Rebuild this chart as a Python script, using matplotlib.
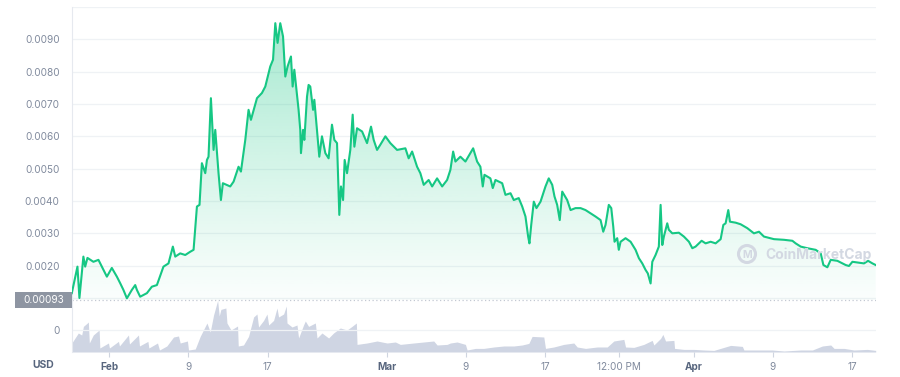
import numpy as np
import matplotlib
matplotlib.use("Agg")
import matplotlib.pyplot as plt
from matplotlib.patches import Circle, Rectangle

plt.rcParams['font.family'] = ['Inter', 'DejaVu Sans']

# ---- data (days relative to Feb 1) ----
price_days = [-3.77, -3.20, -3.00, -2.60, -2.42, -2.19, -1.59, -1.08, -0.74, -0.23, 0.27, 0.78, 1.11, 1.44,
              1.79, 2.29, 2.63, 2.80, 3.13, 3.81, 4.31, 4.82, 5.48, 5.99, 6.43, 6.67, 7.17, 7.68, 8.18, 8.52,
              8.86, 9.12, 9.36, 9.70, 9.87, 10.03, 10.27, 10.54, 10.71, 11.04, 11.28, 11.48, 12.22, 12.56,
              13.06, 13.30, 13.74, 14.07, 14.31, 14.92, 15.42, 15.76, 16.26, 16.54, 16.77, 17.00, 17.27,
              17.55, 17.78, 18.01, 18.35, 18.52, 18.69, 19.12, 19.29, 19.36, 19.57, 19.70, 19.97, 20.13,
              20.30, 20.58, 20.71, 20.98, 21.21, 21.48, 21.82, 22.15, 22.49, 22.73, 23.00, 23.23, 23.40,
              23.61, 23.77, 24.01, 24.34, 24.58, 24.75, 25.02, 25.53, 26.03, 26.43, 26.70, 27.04, 27.37,
              27.88, 28.38, 29.06, 29.90, 30.23, 30.58, 31.08, 31.41, 31.75, 32.25, 32.60, 33.10, 33.61,
              34.11, 34.44, 34.72, 34.95, 35.45, 35.96, 36.74, 37.14, 37.47, 37.71, 37.88, 38.48, 38.72,
              38.99, 39.67, 40.00, 40.51, 40.84, 41.34, 41.69, 42.02, 42.29, 42.42, 42.60, 42.86, 43.13,
              43.54, 44.04, 44.37, 44.72, 44.95, 45.22, 45.48, 45.73, 46.23, 46.57, 47.07, 47.58, 48.08,
              48.59, 49.09, 49.60, 49.87, 50.10, 50.43, 50.68, 50.88, 51.01, 51.28, 51.44, 51.62, 52.12,
              52.63, 53.13, 53.47, 53.81, 54.14, 54.37, 54.65, 54.82, 55.15, 55.48, 55.66, 55.83, 55.99,
              56.33, 56.49, 56.84, 57.50, 58.01, 58.52, 58.86, 59.19, 59.80, 60.20, 60.71, 61.21, 61.72,
              61.99, 62.22, 62.49, 62.66, 63.23, 63.74, 64.41, 65.08, 65.59, 66.09, 67.10, 68.11, 68.96,
              69.29, 69.80, 70.47, 71.31, 71.82, 72.09, 72.49, 72.83, 73.50, 74.34, 74.67, 75.02, 75.69,
              76.19, 76.60, 77.04, 77.37]
price_usd = [0.00115, 0.00197, 0.00100, 0.00228, 0.00197, 0.00224, 0.00212, 0.00218, 0.00197, 0.00166,
             0.00193, 0.00166, 0.00146, 0.00125, 0.00099, 0.00125, 0.00140, 0.00125, 0.00104, 0.00115,
             0.00135, 0.00140, 0.00197, 0.00207, 0.00259, 0.00228, 0.00238, 0.00233, 0.00243, 0.00249,
             0.00383, 0.00388, 0.00517, 0.00486, 0.00527, 0.00537, 0.00718, 0.00558, 0.00620, 0.00486,
             0.00403, 0.00455, 0.00445, 0.00460, 0.00506, 0.00491, 0.00589, 0.00682, 0.00651, 0.00718,
             0.00734, 0.00754, 0.00816, 0.00837, 0.00950, 0.00889, 0.00950, 0.00909, 0.00785, 0.00816,
             0.00847, 0.00754, 0.00806, 0.00682, 0.00620, 0.00548, 0.00620, 0.00589, 0.00723, 0.00759,
             0.00754, 0.00682, 0.00713, 0.00620, 0.00537, 0.00600, 0.00548, 0.00532, 0.00636, 0.00589,
             0.00579, 0.00357, 0.00445, 0.00403, 0.00527, 0.00486, 0.00558, 0.00667, 0.00568, 0.00625,
             0.00615, 0.00579, 0.00630, 0.00589, 0.00558, 0.00574, 0.00600, 0.00579, 0.00558, 0.00563,
             0.00532, 0.00553, 0.00506, 0.00486, 0.00450, 0.00465, 0.00445, 0.00470, 0.00445, 0.00465,
             0.00496, 0.00553, 0.00522, 0.00537, 0.00522, 0.00563, 0.00522, 0.00506, 0.00445, 0.00481,
             0.00470, 0.00440, 0.00465, 0.00455, 0.00419, 0.00424, 0.00403, 0.00409, 0.00383, 0.00352,
             0.00290, 0.00269, 0.00326, 0.00398, 0.00378, 0.00398, 0.00445, 0.00470, 0.00450, 0.00414,
             0.00388, 0.00341, 0.00429, 0.00403, 0.00372, 0.00378, 0.00378, 0.00372, 0.00362, 0.00352,
             0.00341, 0.00305, 0.00326, 0.00388, 0.00378, 0.00321, 0.00274, 0.00285, 0.00249, 0.00274,
             0.00285, 0.00274, 0.00249, 0.00223, 0.00207, 0.00187, 0.00176, 0.00145, 0.00212, 0.00233,
             0.00259, 0.00388, 0.00264, 0.00290, 0.00331, 0.00311, 0.00300, 0.00302, 0.00290, 0.00274,
             0.00254, 0.00259, 0.00277, 0.00269, 0.00274, 0.00269, 0.00282, 0.00326, 0.00331, 0.00372,
             0.00336, 0.00333, 0.00328, 0.00316, 0.00300, 0.00305, 0.00290, 0.00282, 0.00280, 0.00277,
             0.00269, 0.00259, 0.00254, 0.00249, 0.00238, 0.00202, 0.00195, 0.00218, 0.00215, 0.00202,
             0.00199, 0.00212, 0.00209, 0.00207, 0.00215, 0.00207, 0.00202]

vol_days = [-3.77, -3.11, -2.77, -2.60, -2.20, -2.10, -2.00, -1.60, -1.01, -0.94, -0.07, 0.03, 0.94, 1.04,
            1.95, 2.05, 2.96, 3.06, 3.91, 4.01, 4.88, 5.08, 5.82, 6.50, 7.00, 7.17, 7.90, 8.01, 8.69, 9.19,
            9.87, 10.20, 10.54, 10.95, 11.11, 11.28, 11.78, 11.89, 12.30, 12.96, 13.03, 13.56, 14.07, 14.58,
            14.92, 15.08, 15.59, 15.93, 16.10, 16.60, 16.94, 17.10, 17.61, 17.88, 17.95, 18.46, 18.96, 19.12,
            19.62, 19.80, 20.13, 20.81, 20.98, 21.48, 22.15, 22.65, 23.33, 24.01, 24.51, 24.95, 25.02,
            26.03, 27.04, 28.05, 28.89, 29.39, 30.74, 31.75, 32.76, 33.10, 34.11, 34.44, 35.12, 35.96,
            36.13, 36.97, 37.81, 38.82, 39.83, 40.84, 41.69, 42.36, 42.69, 43.87, 44.04, 44.88, 45.89,
            46.90, 47.24, 48.08, 49.26, 50.27, 50.94, 51.95, 52.12, 52.96, 53.97, 54.81, 54.98, 55.66,
            55.89, 56.16, 57.00, 57.07, 58.01, 59.02, 60.03, 61.04, 62.39, 62.73, 63.91, 64.07, 65.42,
            66.93, 68.11, 69.80, 70.98, 71.99, 72.83, 73.17, 74.17, 75.18, 76.53, 77.37]
vol_px = [9, 19, 17, 25.6, 29, 30, 9, 17, 22, 4, 9, 4, 10.6, 6, 17, 8, 17, 6, 10.6, 4, 9, 2, 6, 15, 16,
          9, 11, 2, 3, 15.6, 29, 20, 37, 51.6, 36, 42.6, 44, 29, 22, 26, 6, 7, 15.6, 35, 38, 25, 31.6, 38,
          27, 31.6, 44, 35, 38, 46, 29, 25, 27, 14, 27, 31, 25.6, 29, 14, 19, 14, 19, 24, 22, 25.6, 29,
          7.6, 9, 11, 9, 10, 7.6, 9, 10, 11, 7, 7.6, 9, 10, 7.6, 2, 3.6, 3.6, 5, 6, 6, 7, 8.6, 15.6, 15,
          3.6, 5, 7.6, 9, 5, 3.6, 5, 5, 11, 12.6, 5, 4.6, 7.6, 11.6, 7, 13.6, 17.6, 11, 11.6, 3.6, 2.6,
          2.6, 2, 1.6, 5.6, 6.6, 5.6, 2, 2, 2, 1, 2, 2, 6, 7, 3.6, 3.6, 2, 2.6, 1.6]

y_ticks = [0, 0.001, 0.002, 0.003, 0.004, 0.005, 0.006, 0.007, 0.008, 0.009, 0.010]
y_labels = ['0', '', '0.0020', '0.0030', '0.0040', '0.0050', '0.0060', '0.0070', '0.0080', '0.0090', '']
x_ticks = [0, 8, 16, 28, 36, 44, 51.5, 59, 67, 75]
x_labels = ['Feb', '9', '17', 'Mar', '9', '17', '12:00 PM', 'Apr', '9', '17']
x_bold = ['Feb', 'Mar', 'Apr']
min_price = 0.00093
min_label = '0.00093'

# ---- figure ----
W, H = 900, 377
fig = plt.figure(figsize=(W / 100, H / 100), dpi=100)
left, right, top, bottom = 72, 876, 7, 352
ax = fig.add_axes([left / W, 1 - bottom / H, (right - left) / W, (bottom - top) / H])
axv = ax.twinx()
ax.set_zorder(2)
ax.patch.set_visible(False)

xmin, xmax = -3.75, 77.4
ax.set_xlim(xmin, xmax)
ax.set_ylim(-0.00067, 0.0100)
axv.set_xlim(xmin, xmax)
axv.set_ylim(0, bottom - top)

green = '#16c784'
grey_txt = '#808a9d'
dark_txt = '#58667e'

# volume
axv.fill_between(vol_days, vol_px, 0, color='#cfd5e3', lw=0, zorder=1)
axv.set_yticks([])
for s in axv.spines.values():
    s.set_visible(False)

# gradient fill under price
pd_ = np.array(price_days)
pu = np.array(price_usd)
poly = ax.fill_between(pd_, pu, min_price, color='none', lw=0)
grad = np.linspace(0, 1, 256).reshape(-1, 1)
rgba = np.zeros((256, 1, 4))
rgba[..., 0] = 22 / 255
rgba[..., 1] = 199 / 255
rgba[..., 2] = 132 / 255
rgba[..., 3] = 0.02 + 0.36 * grad[::-1] ** 1.1
im = ax.imshow(rgba, extent=[xmin, xmax, min_price, pu.max()], aspect='auto',
               origin='upper', zorder=1, interpolation='bilinear')
im.set_clip_path(poly.get_paths()[0], transform=ax.transData)

ax.plot(pd_, pu, color=green, lw=1.5, zorder=3, solid_joinstyle='round')

# min dotted line
ax.axhline(min_price, color='#c3c8d2', lw=0.9, ls=(0, (1, 2)), zorder=2)

# grid
ax.set_yticks(y_ticks)
ax.set_yticklabels(y_labels)
ax.grid(axis='y', color='#eff2f5', lw=0.9, zorder=0)
ax.set_axisbelow(True)
ax.tick_params(axis='y', length=0, pad=9, labelsize=7.2, labelcolor=grey_txt)

ax.set_xticks(x_ticks)
ax.set_xticklabels(x_labels)
ax.tick_params(axis='x', length=3.5, width=0.8, color='#cfd5e0', pad=4, labelsize=7.2,
               labelcolor=grey_txt)
for lab in ax.get_xticklabels():
    if lab.get_text() in x_bold:
        lab.set_fontweight('bold')
        lab.set_color(dark_txt)

for name, s in ax.spines.items():
    if name == 'left':
        s.set_color('#e6e9ef')
        s.set_linewidth(0.8)
    else:
        s.set_visible(False)

# min price label box
fig.patches.append(Rectangle((15 / W, 1 - 308 / H), 57 / W, 16 / H, transform=fig.transFigure,
                             facecolor='#8e95a2', edgecolor='none', zorder=5))
fig.text(43.5 / W, 1 - 300 / H, min_label, ha='center', va='center', color='white', fontsize=7.2,
         zorder=6)

# USD label
fig.text(43 / W, 1 - 365 / H, 'USD', ha='center', va='center', color=dark_txt, fontsize=7.5,
         fontweight='bold')

# watermark
wm_col = '#d3d8e2'
fig.patches.append(Circle((7.47, (H - 254) / 100), 0.085, transform=fig.dpi_scale_trans,
                          facecolor='none', edgecolor=wm_col, lw=2.2, zorder=4))
fig.text(747 / W, 1 - 254.5 / H, 'M', ha='center', va='center', color=wm_col, fontsize=7.5,
         fontweight='bold', zorder=4)
fig.text(765 / W, 1 - 255 / H, 'CoinMarketCap', ha='left', va='center', color=wm_col,
         fontsize=10, fontweight='bold', zorder=4)

fig.savefig('out.png', dpi=100)
